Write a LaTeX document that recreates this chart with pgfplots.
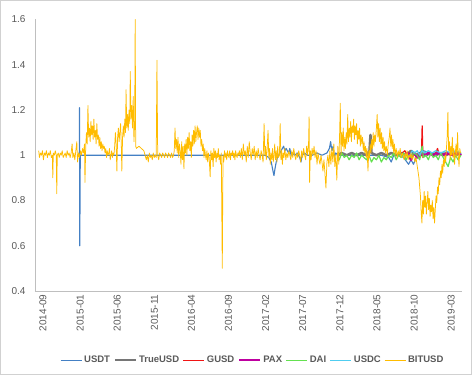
\documentclass[border=0pt]{standalone}
\usepackage{pgfplots}
\pgfplotsset{compat=1.18}
\usepackage{fontspec}
\setmainfont{Liberation Sans}
\definecolor{cUSDT}{RGB}{68,128,196}
\definecolor{cTUSD}{RGB}{118,118,118}
\definecolor{cGUSD}{RGB}{240,20,20}
\definecolor{cPAX}{RGB}{190,0,160}
\definecolor{cDAI}{RGB}{100,225,80}
\definecolor{cUSDC}{RGB}{80,205,240}
\definecolor{cBIT}{RGB}{255,188,0}
\definecolor{txt}{RGB}{89,89,89}
\begin{document}
\begin{tikzpicture}
\useasboundingbox (0pt,0pt) rectangle (472pt,375pt);
\draw[black!18,line width=1pt] (0.5pt,0.5pt) rectangle (471.5pt,374.5pt);
\begin{axis}[
  at={(35pt,84pt)}, anchor=origin,
  scale only axis, width=427pt, height=271.5pt,
  xmin=0, xmax=1726, ymin=0.4, ymax=1.6,
  axis lines*=left,
  axis line style={draw=black!25, line width=0.8pt},
  major tick length=0pt,
  xtick={0,150,300,450,600,750,900,1050,1200,1350,1500,1650},
  xticklabels={2014-09,2015-01,2015-06,2015-11,2016-04,2016-09,2017-02,2017-07,2017-12,2018-05,2018-10,2019-03},
  xticklabel style={rotate=90, anchor=east, font=\fontsize{10}{12}\selectfont, text=txt, yshift=-8pt},
  ytick={0.4,0.6,0.8,1,1.2,1.4,1.6},
  yticklabel style={font=\fontsize{10}{12}\selectfont, text=txt, xshift=-6pt},
  /pgf/number format/assume math mode=true,
  legend style={at={(0.51,-0.255)}, anchor=center, draw=none, fill=none,
    font=\bfseries\fontsize{9.5}{11}\selectfont, text=txt, inner sep=0pt},
  legend columns=-1,
  /tikz/every even column/.append style={column sep=1.5pt},
  legend image code/.code={\draw[#1] (0pt,0pt) -- (21pt,0pt);},
]
% USDT
\addplot[cUSDT, line width=1.1pt, line join=round] coordinates {
(179,1.00)(180,1.21)(181,0.60)(183,1.00)(300,1.00)(500,1.00)(700,1.00)(800,1.00)(900,1.00)(930,1.00)(945,0.99)(955,0.97)(962,0.93)(966,0.91)(970,0.94)(975,0.97)(980,0.99)(990,1.01)(1000,1.03)(1005,1.04)(1010,1.02)(1015,1.03)(1020,1.02)(1025,1.01)(1030,1.03)(1035,1.00)(1040,1.01)(1050,1.00)(1060,1.01)(1070,0.99)(1075,0.97)(1080,1.00)(1090,1.01)(1100,1.00)(1120,1.00)(1140,1.01)(1160,1.00)(1180,1.01)(1190,1.03)(1195,1.06)(1200,1.02)(1205,1.04)(1210,0.99)(1215,1.01)(1230,1.00)(1250,1.00)(1300,1.00)(1350,1.00)(1400,1.00)(1430,0.99)(1440,0.97)(1450,1.00)(1470,1.00)(1490,0.99)(1510,0.96)(1520,0.98)(1530,0.96)(1540,0.99)(1550,1.01)(1570,1.02)(1600,1.01)(1650,1.01)(1700,1.01)(1722,1.01)
};
\addlegendentry{USDT}
% TrueUSD
\addplot[cTUSD, line width=2.5pt, line join=round] coordinates {
(1220,1.00)(1240,1.01)(1260,1.00)(1280,1.01)(1300,1.00)(1320,1.01)(1340,1.00)(1352,1.02)(1356,1.09)(1360,1.01)(1380,1.00)(1400,1.01)(1420,1.00)(1440,1.01)(1460,1.00)(1480,1.01)(1500,1.00)(1520,1.02)(1540,1.00)(1560,1.01)(1580,1.00)(1600,1.01)(1620,1.00)(1640,1.01)(1660,1.00)(1680,1.01)(1700,1.00)(1722,1.01)
};
\addlegendentry{TrueUSD}
% GUSD
\addplot[cGUSD, line width=1.2pt, line join=round] coordinates {
(1484,1.01)(1495,1.02)(1505,1.00)(1515,1.01)(1525,0.99)(1535,1.01)(1545,1.00)(1555,0.99)(1562,1.00)(1565,1.13)(1568,0.99)(1575,1.00)(1590,1.01)(1605,1.00)(1620,1.01)(1627,1.03)(1632,1.01)(1645,1.00)(1660,1.01)(1680,1.00)(1700,1.01)(1722,1.00)
};
\addlegendentry{GUSD}
% PAX
\addplot[cPAX, line width=2.5pt, line join=round] coordinates {
(1496,1.00)(1505,1.01)(1515,0.99)(1520,0.98)(1525,1.00)(1535,1.01)(1545,0.99)(1555,1.00)(1565,1.01)(1575,1.00)(1590,1.01)(1610,1.00)(1630,1.01)(1650,1.00)(1670,1.01)(1690,1.00)(1710,1.01)(1722,1.00)
};
\addlegendentry{PAX}
% DAI
\addplot[cDAI, line width=1.2pt, line join=round] coordinates {
(1221,1.00)(1230,0.98)(1240,1.01)(1250,0.99)(1260,1.00)(1270,0.98)(1280,1.00)(1290,0.99)(1300,1.01)(1310,0.98)(1320,1.00)(1330,0.99)(1340,0.98)(1350,1.00)(1360,0.97)(1370,0.99)(1380,0.98)(1390,1.00)(1400,0.97)(1410,0.99)(1420,0.98)(1430,1.00)(1440,0.99)(1450,1.01)(1460,0.98)(1470,1.00)(1480,0.99)(1490,1.01)(1500,0.98)(1510,1.00)(1520,0.99)(1530,1.01)(1545,1.00)(1555,0.98)(1565,1.04)(1570,0.99)(1580,1.00)(1590,0.98)(1600,1.01)(1610,0.99)(1620,1.00)(1630,0.98)(1640,1.01)(1650,0.99)(1660,0.97)(1670,0.95)(1680,0.99)(1690,0.97)(1700,1.00)(1710,0.98)(1722,1.00)
};
\addlegendentry{DAI}
% USDC
\addplot[cUSDC, line width=1.2pt, line join=round] coordinates {
(1516,1.00)(1525,1.02)(1535,1.01)(1545,1.02)(1555,1.00)(1565,1.02)(1575,1.01)(1590,1.02)(1605,1.01)(1620,1.02)(1640,1.01)(1660,1.02)(1680,1.01)(1700,1.02)(1722,1.01)
};
\addlegendentry{USDC}
% BITUSD
\addplot[cBIT, line width=0.75pt, line join=round] coordinates {
(15,1.02)(18,0.99)(22,1.01)(26,1.00)(30,1.02)(34,0.98)(38,1.01)(42,1.00)(46,1.02)(50,0.99)(54,1.01)(58,1.00)(62,1.02)(66,0.99)(70,1.00)(72,0.90)(74,1.01)(78,1.00)(82,1.02)(86,1.00)(88,0.83)(90,1.00)(94,1.01)(98,0.99)(102,1.01)(106,1.00)(110,1.02)(114,0.99)(118,1.00)(122,1.01)(126,0.99)(130,1.02)(134,1.00)(138,1.01)(142,0.99)(146,1.01)(150,1.05)(153,0.99)(157,1.01)(161,0.98)(165,1.02)(169,1.06)(172,0.97)(176,1.01)(180,0.99)(184,1.02)
(188,1.00)(192,1.03)(196,1.01)(200,1.05)(202,0.88)(205,1.04)(208,1.10)(211,1.05)(214,1.22)(217,1.08)(220,1.12)(223,1.06)(226,1.15)(229,1.09)(232,1.13)(235,1.07)(238,1.16)(241,1.08)(244,1.11)(247,1.05)(250,1.14)(253,1.07)(256,1.09)(259,1.04)(262,1.08)(265,1.03)(268,1.06)(271,1.02)(274,1.05)(277,1.03)(280,1.04)(283,1.01)(286,1.03)(289,0.99)(292,1.02)(295,1.00)(298,1.01)(301,1.03)(304,0.98)
(307,1.00)(310,1.02)(313,0.99)(316,1.01)(319,1.00)(322,1.04)(325,1.10)(328,1.05)(331,0.93)(334,1.08)(337,1.12)(340,1.06)(343,1.10)(346,1.14)(349,1.04)(351,0.93)(354,1.08)(357,1.13)(360,1.08)(363,1.16)(366,1.10)(368,1.29)(371,1.12)(374,1.18)(377,1.11)(380,1.20)(383,1.14)(385,1.37)(388,1.16)(391,1.22)(394,1.12)(397,1.26)(400,1.06)(403,1.15)(405,1.60)(407,1.04)(410,1.03)
(420,1.04)(430,1.03)(440,1.02)(445,1.00)(450,0.98)(454,1.00)(458,0.97)(462,1.01)(466,0.99)(470,1.00)(474,0.98)(478,1.01)(482,0.99)(486,1.00)(490,0.99)(493,1.42)(496,1.00)(500,0.98)(504,1.01)(508,1.00)(512,0.99)(516,1.01)(520,1.00)(524,0.99)(528,1.01)(532,1.00)(536,0.99)(540,1.01)(544,1.00)(548,0.99)(552,1.01)(556,0.99)(560,1.00)
(563,1.02)(566,1.12)(569,1.03)(572,1.07)(575,1.01)(578,1.08)(581,0.99)(584,1.05)(587,1.02)(590,0.96)(593,1.06)(596,0.98)(599,1.04)(602,0.94)(605,1.05)(608,1.01)(611,1.07)(614,1.00)(617,1.08)(620,1.03)(623,1.10)(626,1.02)(629,1.06)(632,0.99)(635,1.09)(638,1.04)(641,1.11)(644,1.05)(647,1.13)(650,1.06)(653,1.10)(656,1.13)(659,1.07)(662,1.12)(665,1.08)(668,1.11)(671,1.04)(674,1.07)(677,1.02)(680,1.05)(683,0.99)(686,1.03)(689,1.00)
(692,0.98)(695,1.02)(698,0.97)(701,1.01)(704,0.99)(708,0.905)(711,1.02)(714,0.98)(717,1.01)(720,0.95)(723,1.03)(726,0.99)(729,1.02)(732,0.97)(735,1.01)(738,0.99)(741,1.03)(744,0.98)(747,1.00)(750,0.96)(753,1.01)(757,0.50)(760,1.00)(763,0.97)(766,1.02)(769,0.99)(772,1.01)(775,0.98)(778,1.02)(781,1.00)(784,0.99)(787,1.02)(790,0.98)(793,1.01)(796,1.00)(799,1.02)(802,0.99)(805,1.01)(808,0.98)(811,1.02)(814,1.00)(817,0.99)(820,1.01)(823,1.00)
(826,1.02)(830,0.99)(834,1.03)(838,0.98)(842,1.05)(846,1.00)(850,1.02)(854,0.97)(858,1.04)(862,0.99)(866,1.06)(870,1.01)(874,0.98)(878,1.03)(882,1.00)(886,1.04)(890,0.98)(894,1.02)(898,0.99)(902,1.03)(906,1.00)(910,0.98)(914,1.02)(918,1.00)(922,0.97)(926,1.14)(929,1.00)(932,1.04)(935,0.98)(938,1.02)(942,1.11)(945,0.99)(948,1.03)(951,0.96)(954,1.01)(957,0.98)(960,1.03)(963,0.97)(966,1.00)(969,1.05)(972,0.98)(975,1.02)(978,0.97)(981,1.04)(984,0.99)(988,1.00)(991,1.14)(994,0.98)(997,1.02)(1000,0.96)(1003,1.01)(1006,0.99)(1010,1.03)(1014,0.98)(1018,1.01)(1022,0.99)(1026,1.02)(1030,1.00)(1034,0.98)(1038,1.02)(1042,0.99)(1046,1.03)(1050,1.00)(1054,0.98)(1058,1.01)(1062,0.99)(1066,1.02)(1070,1.00)(1074,0.97)(1078,1.02)(1082,0.99)(1086,1.03)(1090,1.00)(1094,0.98)(1098,1.04)(1102,1.00)(1106,1.06)(1108,1.17)(1110,0.88)(1113,1.02)(1116,0.98)(1120,1.03)(1124,1.00)(1128,1.04)(1132,0.99)(1136,1.02)(1140,0.96)(1144,1.01)(1148,0.98)(1152,0.96)(1156,1.00)(1160,0.97)(1164,0.93)(1168,0.98)(1172,0.92)(1176,0.855)(1180,0.97)(1184,1.00)(1188,0.95)(1192,1.02)(1196,0.96)(1200,1.03)(1204,0.97)(1208,1.05)(1212,0.95)(1216,1.00)(1220,0.89)(1224,1.04)(1228,0.96)(1231,1.08)(1234,1.23)(1237,1.00)(1240,1.10)(1243,1.04)(1246,1.12)(1249,1.02)(1252,1.08)(1255,1.03)(1258,1.10)(1261,1.05)(1264,1.18)(1267,1.06)(1270,1.12)
(1273,1.08)(1276,1.15)(1279,1.06)(1282,1.13)(1285,1.10)(1288,1.16)(1291,1.07)(1294,1.13)(1297,1.09)(1300,1.14)(1303,1.05)(1306,1.11)(1309,1.07)(1312,1.12)(1315,1.04)(1318,1.09)(1321,1.05)(1324,1.08)(1327,1.02)(1330,1.06)(1333,1.01)(1336,1.04)(1339,0.99)(1342,1.03)(1346,0.93)(1349,1.02)(1352,0.99)(1355,1.05)(1358,1.01)(1361,1.07)(1364,1.03)(1367,1.10)(1370,1.04)(1373,1.09)(1376,1.06)(1380,1.12)(1383,1.18)(1386,1.08)(1389,1.14)(1392,1.06)(1395,1.12)(1398,1.05)(1401,1.10)(1404,1.03)(1407,1.08)(1410,1.02)(1413,1.06)(1416,1.01)(1420,1.04)(1424,1.00)(1428,1.05)(1432,1.08)(1435,1.12)(1438,1.04)(1441,1.09)(1444,1.03)(1447,1.07)(1450,1.01)(1453,1.05)(1456,1.00)(1460,1.03)(1464,0.99)(1468,1.02)(1472,1.00)(1476,1.03)(1480,0.99)(1484,1.01)(1488,1.00)(1492,0.98)(1496,1.01)(1500,0.99)(1504,1.02)(1508,0.98)(1512,1.00)(1516,0.99)(1520,1.01)(1524,0.98)(1528,1.00)(1532,0.99)(1536,0.97)(1540,0.99)(1544,0.96)(1548,0.93)(1552,0.90)(1555,0.86)(1558,0.82)(1561,0.75)(1564,0.70)(1567,0.80)(1570,0.74)(1573,0.84)(1576,0.77)(1579,0.82)(1582,0.74)(1585,0.79)(1588,0.84)(1591,0.76)(1594,0.81)(1597,0.73)(1600,0.78)(1603,0.75)(1606,0.80)(1609,0.72)(1612,0.77)(1615,0.70)(1618,0.76)(1621,0.82)(1624,0.79)(1627,0.86)(1630,0.83)(1633,0.90)(1636,0.87)(1639,0.93)(1642,0.90)(1645,0.96)(1648,0.92)(1651,0.98)(1654,0.95)(1657,1.00)(1660,0.97)(1663,1.03)(1666,1.08)(1669,1.19)(1672,1.02)(1675,1.06)(1678,0.98)(1681,1.04)(1684,1.00)(1687,1.08)(1690,0.99)(1693,1.03)(1696,0.96)(1699,1.01)(1702,1.05)(1705,0.99)(1708,1.10)(1711,1.00)(1714,0.95)(1717,1.03)(1720,1.01)
};
\addlegendentry{BITUSD}
\end{axis}
\end{tikzpicture}
\end{document}
